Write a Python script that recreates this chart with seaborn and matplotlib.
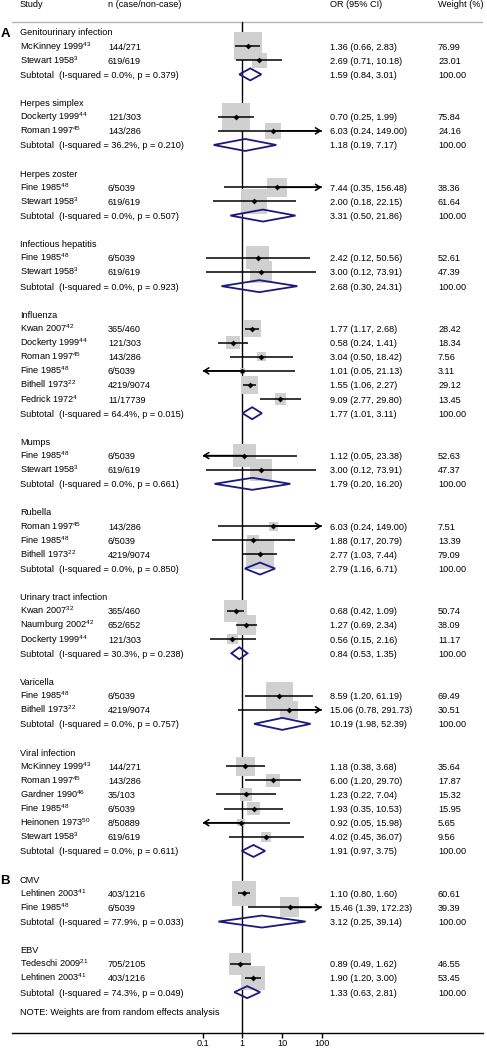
import numpy as np
import pandas as pd
import matplotlib
matplotlib.use("Agg")
import matplotlib.pyplot as plt
import matplotlib.transforms as mtransforms
import seaborn as sns

# ---------------- data ----------------
group_names = ["Genitourinary infection", "Herpes simplex", "Herpes zoster",
               "Infectious hepatitis", "Influenza", "Mumps", "Rubella",
               "Urinary tract infection", "Varicella", "Viral infection",
               "CMV", "EBV"]
panel_letters = {0: "A", 10: "B"}

study_group = [0, 0, 1, 1, 2, 2, 3, 3, 4, 4, 4, 4, 4, 4, 5, 5, 6, 6, 6,
               7, 7, 7, 8, 8, 9, 9, 9, 9, 9, 9, 10, 10, 11, 11]
study_name = ["McKinney 1999", "Stewart 1958",
              "Dockerty 1999", "Roman 1997",
              "Fine 1985", "Stewart 1958",
              "Fine 1985", "Stewart 1958",
              "Kwan 2007", "Dockerty 1999", "Roman 1997", "Fine 1985", "Bithell 1973", "Fedrick 1972",
              "Fine 1985", "Stewart 1958",
              "Roman 1997", "Fine 1985", "Bithell 1973",
              "Kwan 2007", "Naumburg 2002", "Dockerty 1999",
              "Fine 1985", "Bithell 1973",
              "McKinney 1999", "Roman 1997", "Gardner 1990", "Fine 1985", "Heinonen 1973", "Stewart 1958",
              "Lehtinen 2003", "Fine 1985",
              "Tedeschi 2009", "Lehtinen 2003"]
study_ref = ["43", "3", "44", "45", "48", "3", "48", "3",
             "42", "44", "45", "48", "22", "4", "48", "3",
             "45", "48", "22", "32", "42", "44", "48", "22",
             "43", "45", "46", "48", "50", "3", "41", "48", "21", "41"]
study_n = ["144/271", "619/619", "121/303", "143/286", "6/5039", "619/619",
           "6/5039", "619/619", "365/460", "121/303", "143/286", "6/5039",
           "4219/9074", "11/17739", "6/5039", "619/619", "143/286", "6/5039",
           "4219/9074", "365/460", "652/652", "121/303", "6/5039", "4219/9074",
           "144/271", "143/286", "35/103", "6/5039", "8/50889", "619/619",
           "403/1216", "6/5039", "705/2105", "403/1216"]
study_or = [1.36, 2.69, 0.70, 6.03, 7.44, 2.00, 2.42, 3.00,
            1.77, 0.58, 3.04, 1.01, 1.55, 9.09, 1.12, 3.00,
            6.03, 1.88, 2.77, 0.68, 1.27, 0.56, 8.59, 15.06,
            1.18, 6.00, 1.23, 1.93, 0.92, 4.02, 1.10, 15.46, 0.89, 1.90]
study_lo = [0.66, 0.71, 0.25, 0.24, 0.35, 0.18, 0.12, 0.12,
            1.17, 0.24, 0.50, 0.05, 1.06, 2.77, 0.05, 0.12,
            0.24, 0.17, 1.03, 0.42, 0.69, 0.15, 1.20, 0.78,
            0.38, 1.20, 0.22, 0.35, 0.05, 0.45, 0.80, 1.39, 0.49, 1.20]
study_hi = [2.83, 10.18, 1.99, 149.00, 156.48, 22.15, 50.56, 73.91,
            2.68, 1.41, 18.42, 21.13, 2.27, 29.80, 23.38, 73.91,
            149.00, 20.79, 7.44, 1.09, 2.34, 2.16, 61.19, 291.73,
            3.68, 29.70, 7.04, 10.53, 15.98, 36.07, 1.60, 172.23, 1.62, 3.00]
study_weight = [76.99, 23.01, 75.84, 24.16, 38.36, 61.64, 52.61, 47.39,
                28.42, 18.34, 7.56, 3.11, 29.12, 13.45, 52.63, 47.37,
                7.51, 13.39, 79.09, 50.74, 38.09, 11.17, 69.49, 30.51,
                35.64, 17.87, 15.32, 15.95, 5.65, 9.56, 60.61, 39.39, 46.55, 53.45]

sub_or = [1.59, 1.18, 3.31, 2.68, 1.77, 1.79, 2.79, 0.84, 10.19, 1.91, 3.12, 1.33]
sub_lo = [0.84, 0.19, 0.50, 0.30, 1.01, 0.20, 1.16, 0.53, 1.98, 0.97, 0.25, 0.63]
sub_hi = [3.01, 7.17, 21.86, 24.31, 3.11, 16.20, 6.71, 1.35, 52.39, 3.75, 39.14, 2.81]
sub_i2 = ["0.0", "36.2", "0.0", "0.0", "64.4", "0.0", "0.0", "30.3", "0.0", "0.0", "77.9", "74.3"]
sub_p = ["0.379", "0.210", "0.507", "0.923", "0.015", "0.661", "0.850", "0.238", "0.757", "0.611", "0.033", "0.049"]

x_ticks = [0.1, 1, 10, 100]
x_ticklabels = ["0.1", "1", "10", "100"]
header_labels = ["Study", "n (case/non-case)", "OR (95% CI)", "Weight (%)"]
note_text = "NOTE: Weights are from random effects analysis"

# ---------------- layout (rows) ----------------
header_row, study_row, sub_row = [], [], []
r = 0
for g in range(len(group_names)):
    header_row.append(r); r += 1
    for i, sg in enumerate(study_group):
        if sg == g:
            study_row.append(r); r += 1
    sub_row.append(r); r += 1
    r += 1
note_row = sub_row[-1] + 1.35

df = pd.DataFrame({"or": study_or, "lo": study_lo, "hi": study_hi,
                   "weight": study_weight, "row": study_row})

# ---------------- style ----------------
sns.set_theme(style="white")
plt.rcParams["font.family"] = ["Liberation Sans", "DejaVu Sans"]
plt.rcParams["mathtext.default"] = "regular"

W, H = 487, 1050
fig = plt.figure(figsize=(W / 100, H / 100), dpi=100)
px0, px1 = 12, 483
ax_bottom_px = 1032.5
ax = fig.add_axes([px0 / W, (H - ax_bottom_px) / H, (px1 - px0) / W, ax_bottom_px / H])

x_one_px, decade_px = 242.3, 39.7
row0_px, row_px = 32.0, 14.12
ax.set_xscale("log")
ax.set_xlim(10 ** ((px0 - x_one_px) / decade_px), 10 ** ((px1 - x_one_px) / decade_px))
ax.set_ylim((ax_bottom_px - row0_px) / row_px, (0 - row0_px) / row_px)

top_line_row = (21.7 - row0_px) / row_px
ax.axhline(top_line_row, color="#b5b5b5", lw=1.0, zorder=1)
ax.plot([1, 1], [top_line_row, ax.get_ylim()[0]], color="black", lw=1.0, zorder=1.5)

# squares (area proportional to weight), drawn over the reference line
sns.scatterplot(data=df, x="or", y="row", size="weight", sizes=(0, 521), size_norm=(0, 100),
                marker="s", color="#d0d0d0", linewidth=0, legend=False, ax=ax, zorder=2)

# confidence intervals with arrows where clipped
lo_clip, hi_clip = 0.1, 100
for o, lo, hi, rr in zip(study_or, study_lo, study_hi, study_row):
    a, b = max(lo, lo_clip), min(hi, hi_clip)
    ax.plot([a, b], [rr, rr], color="black", lw=1.1, zorder=3, solid_capstyle="butt")
    if lo < lo_clip:
        ax.annotate("", xy=(lo_clip, rr), xytext=(o, rr),
                    arrowprops=dict(arrowstyle="->,head_length=0.35,head_width=0.22",
                                    lw=1.1, color="black", shrinkA=0, shrinkB=0,
                                    mutation_scale=10), zorder=3)
    if hi > hi_clip:
        ax.annotate("", xy=(hi_clip, rr), xytext=(o, rr),
                    arrowprops=dict(arrowstyle="->,head_length=0.35,head_width=0.22",
                                    lw=1.1, color="black", shrinkA=0, shrinkB=0,
                                    mutation_scale=10), zorder=3)

sns.scatterplot(data=df, x="or", y="row", marker="D", s=9, color="black",
                linewidth=0, legend=False, ax=ax, zorder=4)

# subtotal diamonds
dh = 6.0 / row_px
for o, lo, hi, rr in zip(sub_or, sub_lo, sub_hi, sub_row):
    ax.fill([lo, o, hi, o, lo], [rr, rr - dh, rr, rr + dh, rr], fill=False,
            edgecolor="#1a1a7e", lw=1.3, zorder=3.5)

# axis styling (after seaborn calls)
for s in ["top", "left", "right"]:
    ax.spines[s].set_visible(False)
ax.spines["bottom"].set_color("black")
ax.spines["bottom"].set_linewidth(1.0)
ax.set_xticks(x_ticks)
ax.set_xticklabels(x_ticklabels)
ax.xaxis.set_minor_locator(matplotlib.ticker.NullLocator())
ax.tick_params(axis="x", bottom=True, length=3.6, width=1.0, color="black",
               labelsize=6.6, pad=1.0, labelcolor="black")
ax.set_yticks([])
ax.xaxis.label.set_visible(False)
ax.yaxis.label.set_visible(False)

# ---------------- text ----------------
tr = mtransforms.blended_transform_factory(fig.transFigure, ax.transData)
fs = 6.6
col_x = [20, 108, 330, 438]
base = 0.24
def put(px, row, txt, **kw):
    ax.text(px / W, row + base, txt, transform=tr, fontsize=kw.pop("fontsize", fs),
            va="baseline", ha="left", color="black", clip_on=False, **kw)

for cx, lab in zip(col_x, header_labels):
    put(cx, -2, lab)

for g, name in enumerate(group_names):
    put(col_x[0], header_row[g], name)
    if g in panel_letters:
        ax.text(0.5 / W, header_row[g] + 0.33, panel_letters[g], transform=tr,
                fontsize=9.5, fontweight="bold", va="baseline", ha="left",
                color="black", clip_on=False)
    put(col_x[0], sub_row[g], f"Subtotal  (I-squared = {sub_i2[g]}%, p = {sub_p[g]})")
    put(col_x[2], sub_row[g], f"{sub_or[g]:.2f} ({sub_lo[g]:.2f}, {sub_hi[g]:.2f})")
    put(col_x[3], sub_row[g], "100.00")

for i, rr in enumerate(study_row):
    put(col_x[0], rr, f"{study_name[i]}$^{{{study_ref[i]}}}$")
    put(col_x[1], rr, study_n[i])
    put(col_x[2], rr, f"{study_or[i]:.2f} ({study_lo[i]:.2f}, {study_hi[i]:.2f})")
    put(col_x[3], rr, f"{study_weight[i]:.2f}")

put(col_x[0], note_row, note_text)

fig.savefig("out.png", dpi=100)
